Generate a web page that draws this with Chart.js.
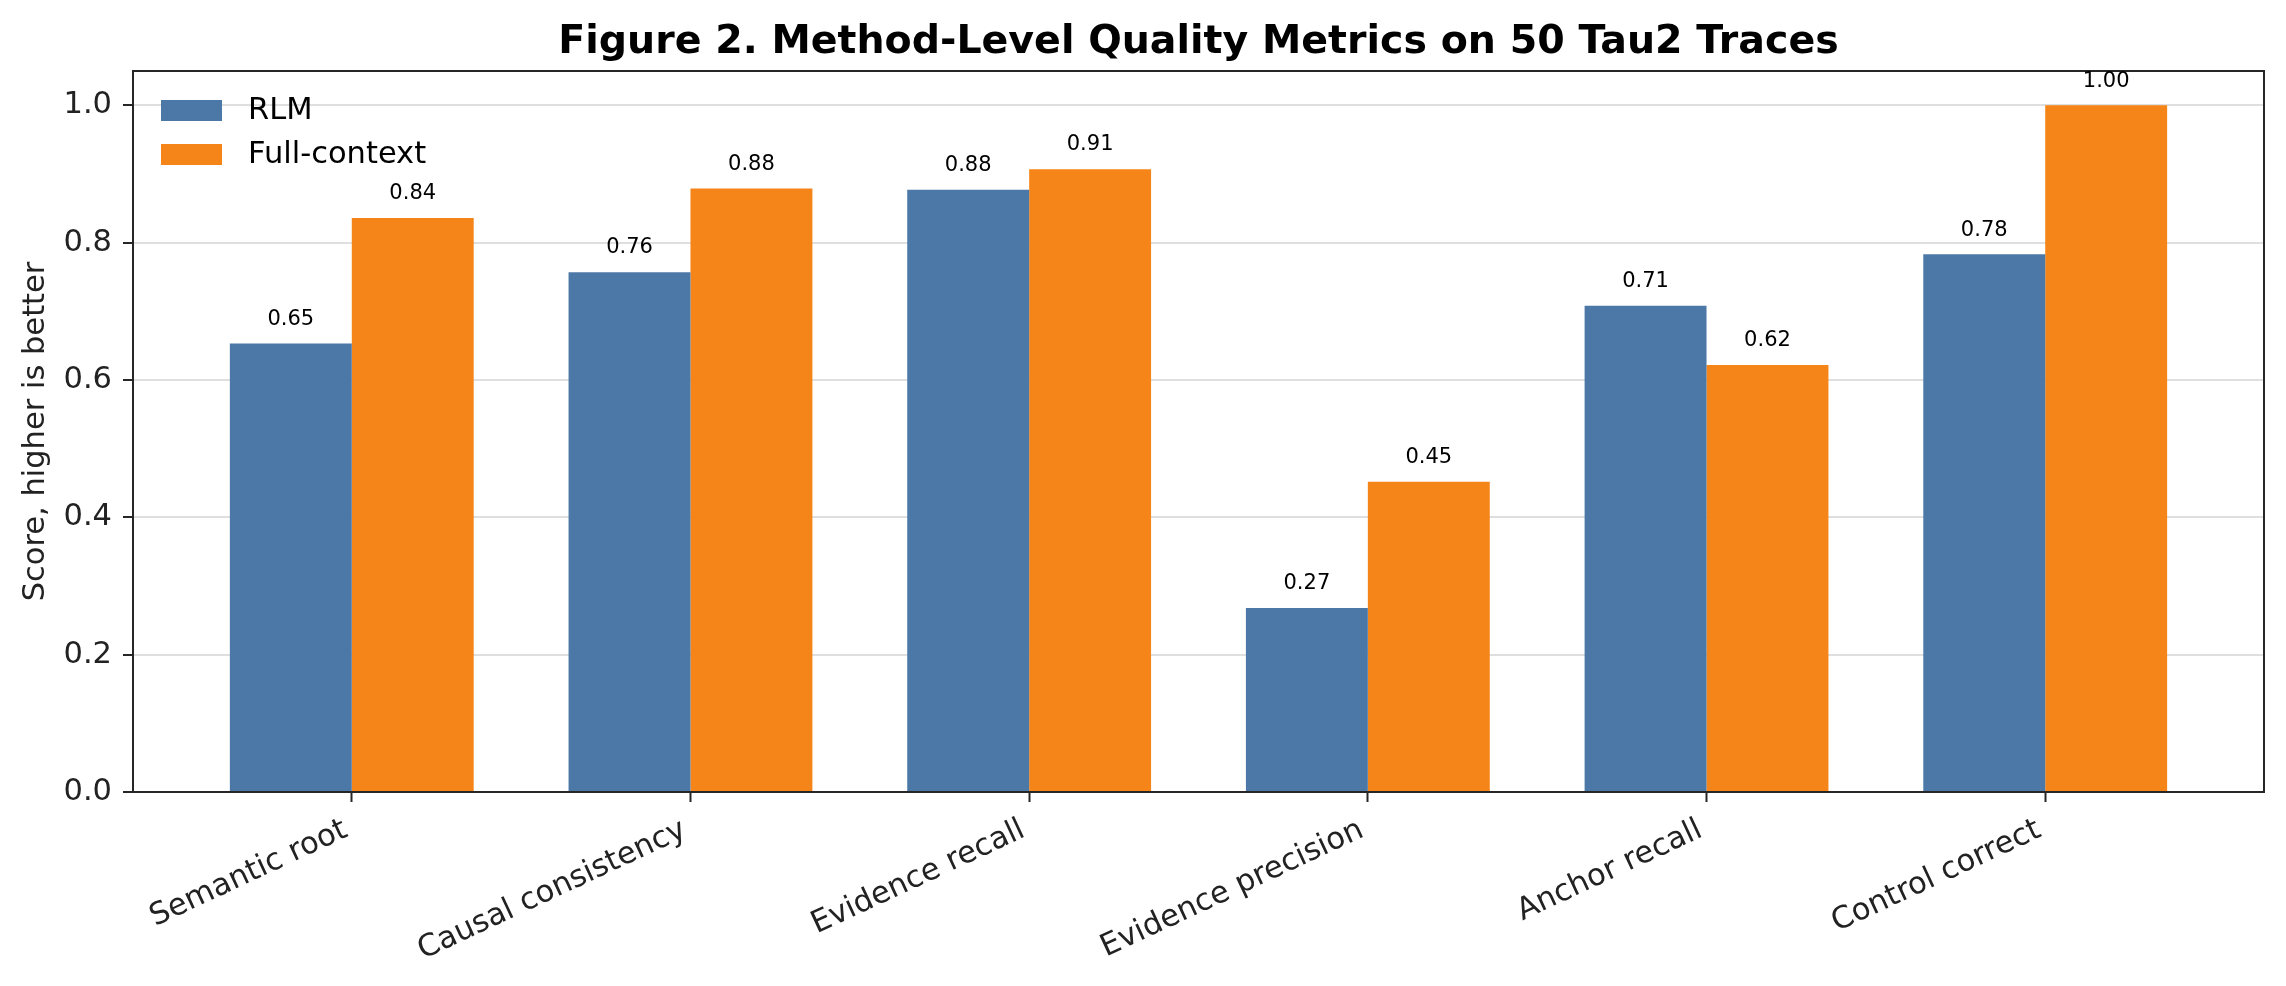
<!DOCTYPE html>
<html lang="en">
<head>
  <meta charset="UTF-8">
  <title>Method-Level Quality Metrics</title>
  <script src="https://cdn.jsdelivr.net/npm/chart.js"></script>
  <style>
    body {
      margin: 0;
      padding: 0;
      background: #ffffff;
    }
    #chart {
      display: block;
    }
  </style>
</head>
<body>

<canvas id="chart" width="2286" height="986"></canvas>

<script>
  const categories = ["Semantic root", "Causal consistency", "Evidence recall", "Evidence precision", "Anchor recall", "Control correct"];
  const rlmScores = [0.653, 0.757, 0.877, 0.268, 0.708, 0.783];
  const fullContextScores = [0.836, 0.879, 0.907, 0.452, 0.622, 1.0];
  const yTicks = [0, 0.2, 0.4, 0.6, 0.8, 1.0];

  const TITLE = "Figure 2. Method-Level Quality Metrics on 50 Tau2 Traces";
  const FONT = "DejaVu Sans";
  const BLUE = "#4C78A8";
  const ORANGE = "#F58518";
  const AXIS = "#262626";

  // title (centred on the axes), frame, legend and value labels
  const overlay = {
    id: "overlay",
    afterDraw(chart) {
      const ctx = chart.ctx;
      const area = chart.chartArea;
      const y = chart.scales.y;

      ctx.save();
      ctx.fillStyle = "#000";
      ctx.font = "bold 39.5px '" + FONT + "'";
      ctx.textAlign = "center";
      ctx.textBaseline = "alphabetic";
      ctx.fillText(TITLE, (area.left + area.right) / 2, 53);

      ctx.strokeStyle = AXIS;
      ctx.lineWidth = 2;
      ctx.strokeRect(area.left, area.top, area.right - area.left, area.bottom - area.top);

      // legend, top left inside the axes
      ctx.font = "30.5px '" + FONT + "'";
      ctx.textBaseline = "middle";
      ctx.textAlign = "left";
      chart.data.datasets.forEach((ds, i) => {
        const top = area.top + 29 + i * 44;
        ctx.fillStyle = ds.backgroundColor;
        ctx.fillRect(area.left + 28, top, 61, 21);
        ctx.fillStyle = "#000";
        ctx.fillText(ds.label, area.left + 115, top + 11);
      });

      // bar value labels
      ctx.font = "21px '" + FONT + "'";
      ctx.textAlign = "center";
      ctx.textBaseline = "alphabetic";
      ctx.fillStyle = "#000";
      chart.data.datasets.forEach((ds, i) => {
        const meta = chart.getDatasetMeta(i);
        meta.data.forEach((bar, j) => {
          const v = ds.data[j].y;
          ctx.fillText(v.toFixed(2), bar.x, y.getPixelForValue(v + 0.02) - 5);
        });
      });
      ctx.restore();
    }
  };

  new Chart(document.getElementById("chart"), {
    type: "bar",
    data: {
      datasets: [
        {
          label: "RLM",
          data: categories.map((c, i) => ({ x: i, y: rlmScores[i] })),
          backgroundColor: BLUE
        },
        {
          label: "Full-context",
          data: categories.map((c, i) => ({ x: i, y: fullContextScores[i] })),
          backgroundColor: ORANGE
        }
      ]
    },
    options: {
      responsive: false,
      devicePixelRatio: 1,
      animation: false,
      categoryPercentage: 0.72,
      barPercentage: 1.0,
      layout: { padding: { left: 0, right: 22, top: 71, bottom: 0 } },
      plugins: {
        legend: { display: false },
        tooltip: { enabled: false },
        title: { display: false }
      },
      scales: {
        x: {
          type: "linear",
          min: -0.646,
          max: 5.646,
          offset: false,
          afterBuildTicks(scale) {
            scale.ticks = categories.map((c, i) => ({ value: i }));
          },
          afterFit(scale) {
            scale.height = 194;
          },
          border: { display: false },
          grid: {
            display: true,
            offset: false,
            drawOnChartArea: false,
            drawTicks: true,
            tickLength: 10,
            tickColor: AXIS,
            tickWidth: 2
          },
          ticks: {
            autoSkip: false,
            minRotation: 25,
            maxRotation: 25,
            padding: 10,
            labelOffset: -6,
            color: "#222",
            font: { family: FONT, size: 30.5 },
            callback: (v) => categories[v]
          }
        },
        y: {
          min: 0,
          max: 1.05,
          z: 1,
          afterBuildTicks(scale) {
            scale.ticks = yTicks.map((v) => ({ value: v }));
          },
          afterFit(scale) {
            scale.width = 133;
          },
          border: { display: false },
          grid: {
            color: "rgba(215,215,215,0.8)",
            lineWidth: 2,
            tickLength: 10,
            tickColor: AXIS,
            tickWidth: 2
          },
          ticks: {
            padding: 11,
            color: "#222",
            font: { family: FONT, size: 30.5 },
            callback: (v) => v.toFixed(1)
          },
          title: {
            display: true,
            text: "Score, higher is better",
            color: "#222",
            font: { family: FONT, size: 30.5 },
            padding: { top: 18, bottom: 0 }
          }
        }
      }
    },
    plugins: [overlay]
  });
</script>

</body>
</html>
